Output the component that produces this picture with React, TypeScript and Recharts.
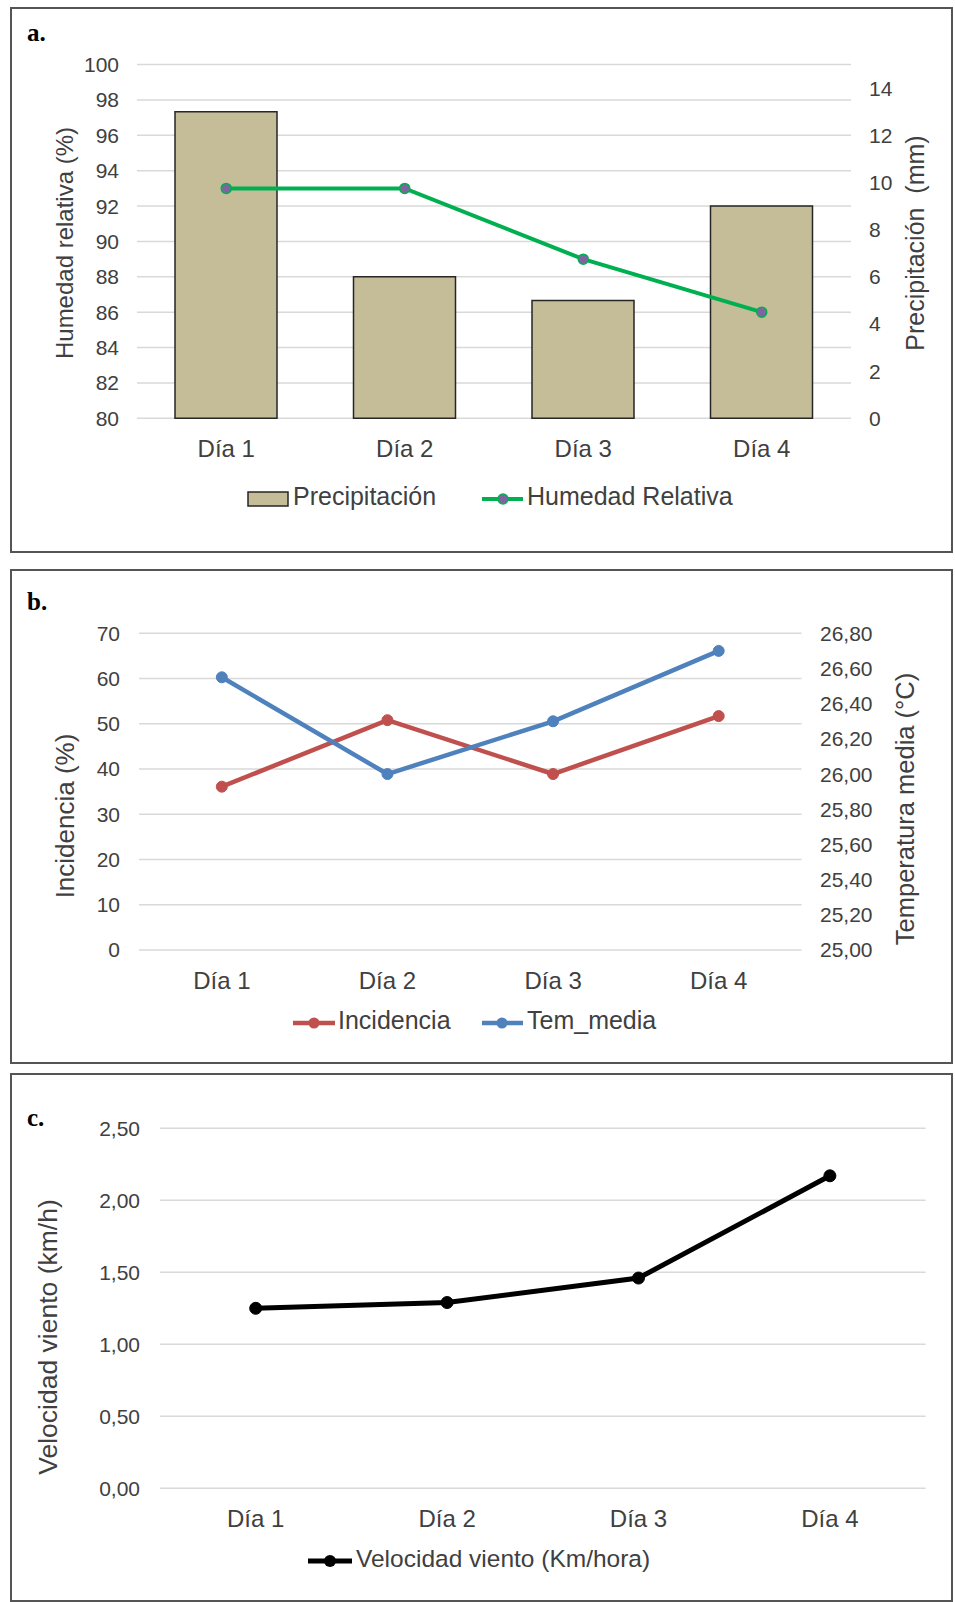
import React from 'react';
import { ComposedChart, LineChart, Bar, Line, XAxis, YAxis, CartesianGrid } from 'recharts';

// categorias y series
const dias = ['Día 1', 'Día 2', 'Día 3', 'Día 4'];
const precipitacion = [13, 6, 5, 9];
const humedadRelativa = [93, 93, 89, 86];
const incidencia = [36.1, 50.8, 38.9, 51.7];
const temMedia = [26.55, 26.0, 26.3, 26.7];
const velocidadViento = [1.25, 1.29, 1.46, 2.17];

const humedadTicks = [80, 82, 84, 86, 88, 90, 92, 94, 96, 98, 100];
const precipTicks = [0, 2, 4, 6, 8, 10, 12, 14];
const incidenciaTicks = [0, 10, 20, 30, 40, 50, 60, 70];
const temTicks = [25, 25.2, 25.4, 25.6, 25.8, 26, 26.2, 26.4, 26.6, 26.8];
const vientoTicks = [0, 0.5, 1, 1.5, 2, 2.5];

const FONT = '"Liberation Sans", Arial, sans-serif';
const TEXT = '#404040';
const GRID = '#d9d9d9';

const dataA = dias.map((dia, i) => ({ dia, precipitacion: precipitacion[i], humedad: humedadRelativa[i] }));
const dataB = dias.map((dia, i) => ({ dia, incidencia: incidencia[i], tem: temMedia[i] }));
const dataC = dias.map((dia, i) => ({ dia, viento: velocidadViento[i] }));

const coma = (v: number) => v.toFixed(2).replace('.', ',');

const yTick = { fill: TEXT, fontSize: 21, fontFamily: FONT };
const xTick = { fill: TEXT, fontSize: 24, fontFamily: FONT };

const title = (text: string, x: number, y: number, size: number) => () => (
    <text
        x={x}
        y={y}
        transform={`rotate(-90 ${x} ${y})`}
        textAnchor="middle"
        dominantBaseline="central"
        fontSize={size}
        fontFamily={FONT}
        fill={TEXT}
        style={{ whiteSpace: 'pre' }}
    >
        {text}
    </text>
);

const Panel: React.FC<{ top: number; height: number }> = ({ top, height }) => (
    <div
        style={{
            position: 'absolute',
            left: 10,
            top,
            width: 943,
            height,
            border: '2px solid #555',
            boxSizing: 'border-box',
        }}
    />
);

// ancho de banda de cada categoria en los graficos de lineas
const bandB = (790.5 - 128) / dias.length;
const bandC = (914.6 - 149) / dias.length;

export default function App() {
    return (
        <div style={{ position: 'absolute', left: 0, top: 0, width: 955, height: 1602, background: '#fff', fontFamily: FONT }}>
            <Panel top={7} height={546} />
            <Panel top={569} height={495} />
            <Panel top={1073} height={529} />

            {/* a. precipitacion y humedad */}
            <div style={{ position: 'absolute', left: 11, top: 8 }}>
                <ComposedChart width={941} height={544} data={dataA} margin={{ top: 56.6, right: 0, bottom: 103.7, left: 0 }}>
                    <CartesianGrid yAxisId="h" vertical={false} stroke={GRID} strokeWidth={1.5} />
                    <XAxis dataKey="dia" height={30} axisLine={false} tickLine={false} tick={xTick} tickMargin={16} interval={0} />
                    <YAxis
                        yAxisId="h"
                        domain={[80, 100]}
                        ticks={humedadTicks}
                        width={126}
                        axisLine={false}
                        tickLine={false}
                        tick={yTick}
                        tickMargin={12}
                        label={title('Humedad relativa (%)', 53, 235, 24)}
                    />
                    <YAxis
                        yAxisId="p"
                        orientation="right"
                        domain={[0, 15]}
                        ticks={precipTicks}
                        width={101}
                        axisLine={false}
                        tickLine={false}
                        tick={yTick}
                        tickMargin={12}
                        label={title('Precipitación  (mm)', 904, 235, 25)}
                    />
                    <Bar yAxisId="p" dataKey="precipitacion" barSize={102} fill="#C4BD97" stroke="#262626" strokeWidth={1.5} isAnimationActive={false} />
                    <Line
                        yAxisId="h"
                        dataKey="humedad"
                        stroke="#00B050"
                        strokeWidth={4}
                        dot={{ r: 5, fill: '#8064A2', stroke: '#00B050', strokeWidth: 1.5 }}
                        isAnimationActive={false}
                    />
                </ComposedChart>
            </div>

            {/* b. incidencia y temperatura */}
            <div style={{ position: 'absolute', left: 11, top: 570 }}>
                <LineChart width={941} height={493} data={dataB} margin={{ top: 63.3, right: 0, bottom: 83, left: 0 }}>
                    <CartesianGrid yAxisId="i" vertical={false} stroke={GRID} strokeWidth={1.5} />
                    <XAxis
                        dataKey="dia"
                        height={30}
                        axisLine={false}
                        tickLine={false}
                        tick={xTick}
                        tickMargin={16}
                        interval={0}
                        padding={{ left: bandB / 2, right: bandB / 2 }}
                    />
                    <YAxis
                        yAxisId="i"
                        domain={[0, 70]}
                        ticks={incidenciaTicks}
                        width={128}
                        axisLine={false}
                        tickLine={false}
                        tick={yTick}
                        tickMargin={13}
                        label={title('Incidencia (%)', 54, 246, 26)}
                    />
                    <YAxis
                        yAxisId="t"
                        orientation="right"
                        domain={[25, 26.8]}
                        ticks={temTicks}
                        tickFormatter={coma}
                        width={150.5}
                        axisLine={false}
                        tickLine={false}
                        tick={yTick}
                        tickMargin={12.5}
                        label={title('Temperatura media (°C)', 894, 239, 25.5)}
                    />
                    <Line
                        yAxisId="i"
                        dataKey="incidencia"
                        stroke="#C0504D"
                        strokeWidth={4.5}
                        dot={{ r: 5.5, fill: '#C0504D', stroke: '#C0504D', strokeWidth: 1 }}
                        isAnimationActive={false}
                    />
                    <Line
                        yAxisId="t"
                        dataKey="tem"
                        stroke="#4F81BD"
                        strokeWidth={4.5}
                        dot={{ r: 5.5, fill: '#4F81BD', stroke: '#4F81BD', strokeWidth: 1 }}
                        isAnimationActive={false}
                    />
                </LineChart>
            </div>

            {/* c. velocidad del viento */}
            <div style={{ position: 'absolute', left: 11, top: 1074 }}>
                <LineChart width={941} height={527} data={dataC} margin={{ top: 54.3, right: 26.4, bottom: 82.7, left: 0 }}>
                    <CartesianGrid vertical={false} stroke={GRID} strokeWidth={1.5} />
                    <XAxis
                        dataKey="dia"
                        height={30}
                        axisLine={false}
                        tickLine={false}
                        tick={xTick}
                        tickMargin={16}
                        interval={0}
                        padding={{ left: bandC / 2, right: bandC / 2 }}
                    />
                    <YAxis
                        domain={[0, 2.5]}
                        ticks={vientoTicks}
                        tickFormatter={coma}
                        width={149}
                        axisLine={false}
                        tickLine={false}
                        tick={yTick}
                        tickMargin={14}
                        label={title('Velocidad viento (km/h)', 37, 263, 26.5)}
                    />
                    <Line
                        dataKey="viento"
                        stroke="#000"
                        strokeWidth={5}
                        dot={{ r: 6, fill: '#000', stroke: '#000', strokeWidth: 1 }}
                        isAnimationActive={false}
                    />
                </LineChart>
            </div>

            {/* letras de panel y leyendas */}
            <svg width={955} height={1602} style={{ position: 'absolute', left: 0, top: 0, pointerEvents: 'none' }}>
                <g fontFamily='"Liberation Serif", "Times New Roman", serif' fontWeight="bold" fontSize={25} fill="#000">
                    <text x={27} y={41}>a.</text>
                    <text x={27} y={610}>b.</text>
                    <text x={27} y={1126}>c.</text>
                </g>
                <g fontFamily={FONT} fontSize={25} fill={TEXT}>
                    <rect x={248} y={492} width={40} height={14} fill="#C4BD97" stroke="#262626" strokeWidth={1.5} />
                    <text x={293} y={505}>Precipitación</text>
                    <line x1={482} y1={499} x2={523} y2={499} stroke="#00B050" strokeWidth={4} />
                    <circle cx={503} cy={499} r={5} fill="#8064A2" stroke="#00B050" strokeWidth={1.5} />
                    <text x={527} y={505}>Humedad Relativa</text>

                    <line x1={293} y1={1023} x2={335} y2={1023} stroke="#C0504D" strokeWidth={4.5} />
                    <circle cx={314} cy={1023} r={5.5} fill="#C0504D" />
                    <text x={338} y={1029}>Incidencia</text>
                    <line x1={482} y1={1023} x2={523} y2={1023} stroke="#4F81BD" strokeWidth={4.5} />
                    <circle cx={502} cy={1023} r={5.5} fill="#4F81BD" />
                    <text x={527} y={1029}>Tem_media</text>

                    <line x1={308} y1={1561} x2={352} y2={1561} stroke="#000" strokeWidth={5} />
                    <circle cx={330} cy={1561} r={6} fill="#000" />
                    <text x={356} y={1567} fontSize={24.5}>Velocidad viento (Km/hora)</text>
                </g>
            </svg>
        </div>
    );
}
